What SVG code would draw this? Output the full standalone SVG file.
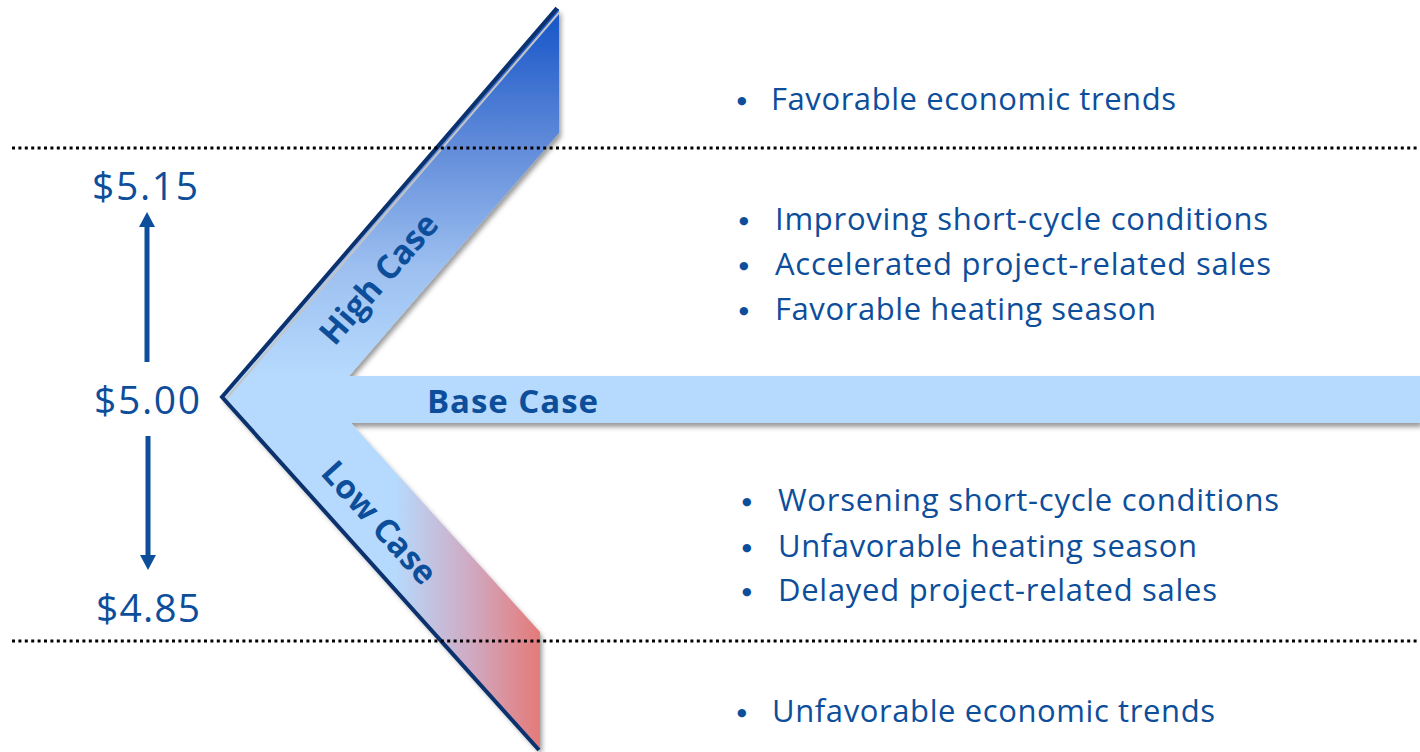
<svg xmlns="http://www.w3.org/2000/svg" width="1420" height="752" viewBox="0 0 1420 752">
  <style>
    .txt { font-family: "Open Sans", Lato, sans-serif; fill: #0d4e9b; }
    .bullet { font-size: 31px; }
    .dot { font-family: "DejaVu Sans", sans-serif; font-size: 11px; fill: #0d4e9b; }
    .price { font-size: 39px; }
    .band-label { font-family: "Open Sans", Lato, sans-serif; font-weight: 700; font-size: 33px; fill: #0d4e9b; }
    .divider { stroke: #000; stroke-width: 3; stroke-dasharray: 3 3.4; fill: none; }
    .edge-dark { stroke: #0b326f; stroke-width: 4; fill: none; stroke-linejoin: miter; }
    .edge-light { stroke: #c4c4c4; stroke-width: 2; fill: none; }
    .move { stroke: #0d4e9b; stroke-width: 5; fill: none; }
  </style>
  <defs>
    <linearGradient id="gradHigh" gradientUnits="userSpaceOnUse" x1="0" y1="10" x2="0" y2="376">
      <stop offset="0" stop-color="#1454c8"/>
      <stop offset="0.35" stop-color="#5d88d8"/>
      <stop offset="0.7" stop-color="#9cbff0"/>
      <stop offset="1" stop-color="#b6dafd"/>
    </linearGradient>
    <linearGradient id="gradLow" gradientUnits="userSpaceOnUse" x1="395" y1="0" x2="542" y2="0">
      <stop offset="0" stop-color="#b6dafd"/>
      <stop offset="0.5" stop-color="#cfabc4"/>
      <stop offset="1" stop-color="#e57977"/>
    </linearGradient>
    <filter id="shadow" x="-5%" y="-5%" width="115%" height="115%">
      <feDropShadow dx="2" dy="4" stdDeviation="2.5" flood-color="#000" flood-opacity="0.4"/>
    </filter>
    <marker id="head" viewBox="0 0 15 16" refX="7" refY="8" markerWidth="15" markerHeight="16" markerUnits="userSpaceOnUse" orient="auto">
      <path d="M0,0 L15,8 L0,16 z" fill="#0d4e9b"/>
    </marker>
  </defs>

  <!-- scenario chevron -->
  <g id="chevron" filter="url(#shadow)">
    <polygon id="high-band" points="222,397 557,9 559,9 559,133 349,376 300,397" fill="url(#gradHigh)"/>
    <polygon id="low-band" points="222,397 300,397 351,423 540,632 540,749 538,749" fill="url(#gradLow)"/>
    <polygon id="base-band" points="222,397 240,376 1420,376 1420,423 245.5,423" fill="#b6dafd"/>
  </g>
  <g id="chevron-edge">
    <polyline class="edge-light" points="559.5,12 225.5,399.5 541,751"/>
    <polyline class="edge-dark" points="557,8 222,397 539,750"/>
  </g>

  <!-- band labels -->
  <g id="label-high">
    <text class="band-label" x="0" y="0" text-anchor="middle" dominant-baseline="central" transform="translate(378,278) rotate(-49)">High Case</text>
  </g>
  <g id="label-base">
    <text class="band-label" x="427" y="413" textLength="171">Base Case</text>
  </g>
  <g id="label-low">
    <text class="band-label" x="0" y="0" text-anchor="middle" dominant-baseline="central" transform="translate(380,522) rotate(47.8)">Low Case</text>
  </g>

  <!-- range dividers -->
  <g id="dividers">
    <line class="divider" x1="12" y1="148" x2="1420" y2="148"/>
    <line class="divider" x1="12" y1="641" x2="1420" y2="641"/>
  </g>

  <!-- price range -->
  <g id="price-high"><text class="txt price" x="92" y="200" textLength="106">$5.15</text></g>
  <g id="price-base"><text class="txt price" x="94" y="414" textLength="106">$5.00</text></g>
  <g id="price-low"><text class="txt price" x="96" y="622" textLength="104">$4.85</text></g>
  <g id="connectors">
    <line class="move" x1="147" y1="362" x2="147" y2="220" marker-end="url(#head)"/>
    <line class="move" x1="148" y1="436" x2="148" y2="562" marker-end="url(#head)"/>
  </g>

  <!-- drivers above high case -->
  <g id="drivers-top">
    <text class="dot" x="737" y="104">●</text>
    <text class="txt bullet" x="771" y="110" textLength="405">Favorable economic trends</text>
  </g>
  <g id="drivers-high">
    <text class="dot" x="739" y="224">●</text>
    <text class="txt bullet" x="775" y="230" textLength="493">Improving short-cycle conditions</text>
    <text class="dot" x="739" y="269">●</text>
    <text class="txt bullet" x="775" y="275" textLength="496">Accelerated project-related sales</text>
    <text class="dot" x="739" y="314">●</text>
    <text class="txt bullet" x="775" y="320" textLength="381">Favorable heating season</text>
  </g>
  <g id="drivers-low">
    <text class="dot" x="742" y="505">●</text>
    <text class="txt bullet" x="778" y="511" textLength="501">Worsening short-cycle conditions</text>
    <text class="dot" x="742" y="551">●</text>
    <text class="txt bullet" x="778" y="557" textLength="419">Unfavorable heating season</text>
    <text class="dot" x="742" y="595">●</text>
    <text class="txt bullet" x="778" y="601" textLength="439">Delayed project-related sales</text>
  </g>
  <g id="drivers-bottom">
    <text class="dot" x="737" y="716">●</text>
    <text class="txt bullet" x="772" y="722" textLength="443">Unfavorable economic trends</text>
  </g>
</svg>
